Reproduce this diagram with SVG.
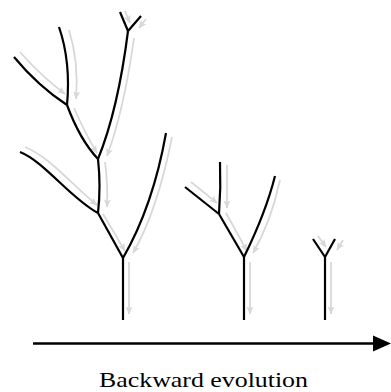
<svg xmlns="http://www.w3.org/2000/svg" width="391" height="392" viewBox="0 0 391 392">
  <style>
    .branch { fill: none; stroke: #000; stroke-width: 2.2; stroke-linecap: butt; stroke-linejoin: round; }
    .flow { fill: none; stroke: #d8d8d8; stroke-width: 1.8; marker-end: url(#flowhead); }
  </style>
  <defs>
    <marker id="flowhead" viewBox="0 0 8 8" refX="7.5" refY="4" markerWidth="8" markerHeight="8" markerUnits="userSpaceOnUse" orient="auto">
      <path d="M0,0.5 L8,4 L0,7.5 L1.8,4 z" fill="#d8d8d8"/>
    </marker>
  </defs>

  <rect width="391" height="392" fill="#fff"/>

  <!-- gray flow arrows running from the tips towards each root -->
  <g id="connectors">
    <!-- tree 1 -->
    <path class="flow" d="M129,262 L129,314"/>
    <path class="flow" d="M103,214 L125,251"/>
    <path class="flow" d="M172,137 Q157,212 133,253"/>
    <path class="flow" d="M105,162 Q108,185 107,207"/>
    <path class="flow" d="M25,147 C50,157 75,188 97,205"/>
    <path class="flow" d="M74,108 Q86,135 97,153"/>
    <path class="flow" d="M134,38 Q124,110 107,156"/>
    <path class="flow" d="M20,52 Q40,75 65,94"/>
    <path class="flow" d="M69,30 Q79,62 76,99"/>
    <path class="flow" d="M125,11 L130,23"/>
    <path class="flow" d="M146,19 L139,28"/>
    <!-- tree 2 -->
    <path class="flow" d="M250,262 L250,314"/>
    <path class="flow" d="M226,213 L247,251"/>
    <path class="flow" d="M280,180 Q271,222 253,253"/>
    <path class="flow" d="M227,165 L227,208"/>
    <path class="flow" d="M191,182 L217,203"/>
    <!-- tree 3 -->
    <path class="flow" d="M331,262 L331,314"/>
    <path class="flow" d="M318,236 L326,247"/>
    <path class="flow" d="M343,240 L337,250"/>
  </g>

  <!-- tree 1: the full branching -->
  <g id="tree-1">
    <path class="branch" d="M123,320 L123,258"/>
    <path class="branch" d="M123,258 L98,213"/>
    <path class="branch" d="M123,258 Q153,206 166,133"/>
    <path class="branch" d="M98,213 Q101,186 98,159"/>
    <path class="branch" d="M98,213 C70,198 45,162 20,152"/>
    <path class="branch" d="M98,159 Q80,140 67,105"/>
    <path class="branch" d="M98,159 Q118,110 128,31"/>
    <path class="branch" d="M67,105 Q38,86 14,57"/>
    <path class="branch" d="M67,105 Q71,62 59,27"/>
    <path class="branch" d="M128,31 L120,12"/>
    <path class="branch" d="M128,31 L141,16"/>
  </g>

  <!-- tree 2: partially reduced -->
  <g id="tree-2">
    <path class="branch" d="M244,320 L244,257"/>
    <path class="branch" d="M244,257 L219,214"/>
    <path class="branch" d="M244,257 Q266,212 275,176"/>
    <path class="branch" d="M219,214 Q221,188 220,162"/>
    <path class="branch" d="M219,214 L185,187"/>
  </g>

  <!-- tree 3: single fork -->
  <g id="tree-3">
    <path class="branch" d="M325,320 L325,257"/>
    <path class="branch" d="M325,257 L313,239"/>
    <path class="branch" d="M325,257 L335,239"/>
  </g>

  <!-- time axis -->
  <g id="axis">
    <line x1="33" y1="343.5" x2="375" y2="343.5" stroke="#000" stroke-width="2.4"/>
    <polygon points="373,335.5 391,343.5 373,351.5" fill="#000"/>
    <text x="99" y="387" font-family="'Liberation Serif', 'DejaVu Serif', serif" font-size="22" fill="#000" textLength="209" lengthAdjust="spacingAndGlyphs">Backward evolution</text>
  </g>
</svg>
